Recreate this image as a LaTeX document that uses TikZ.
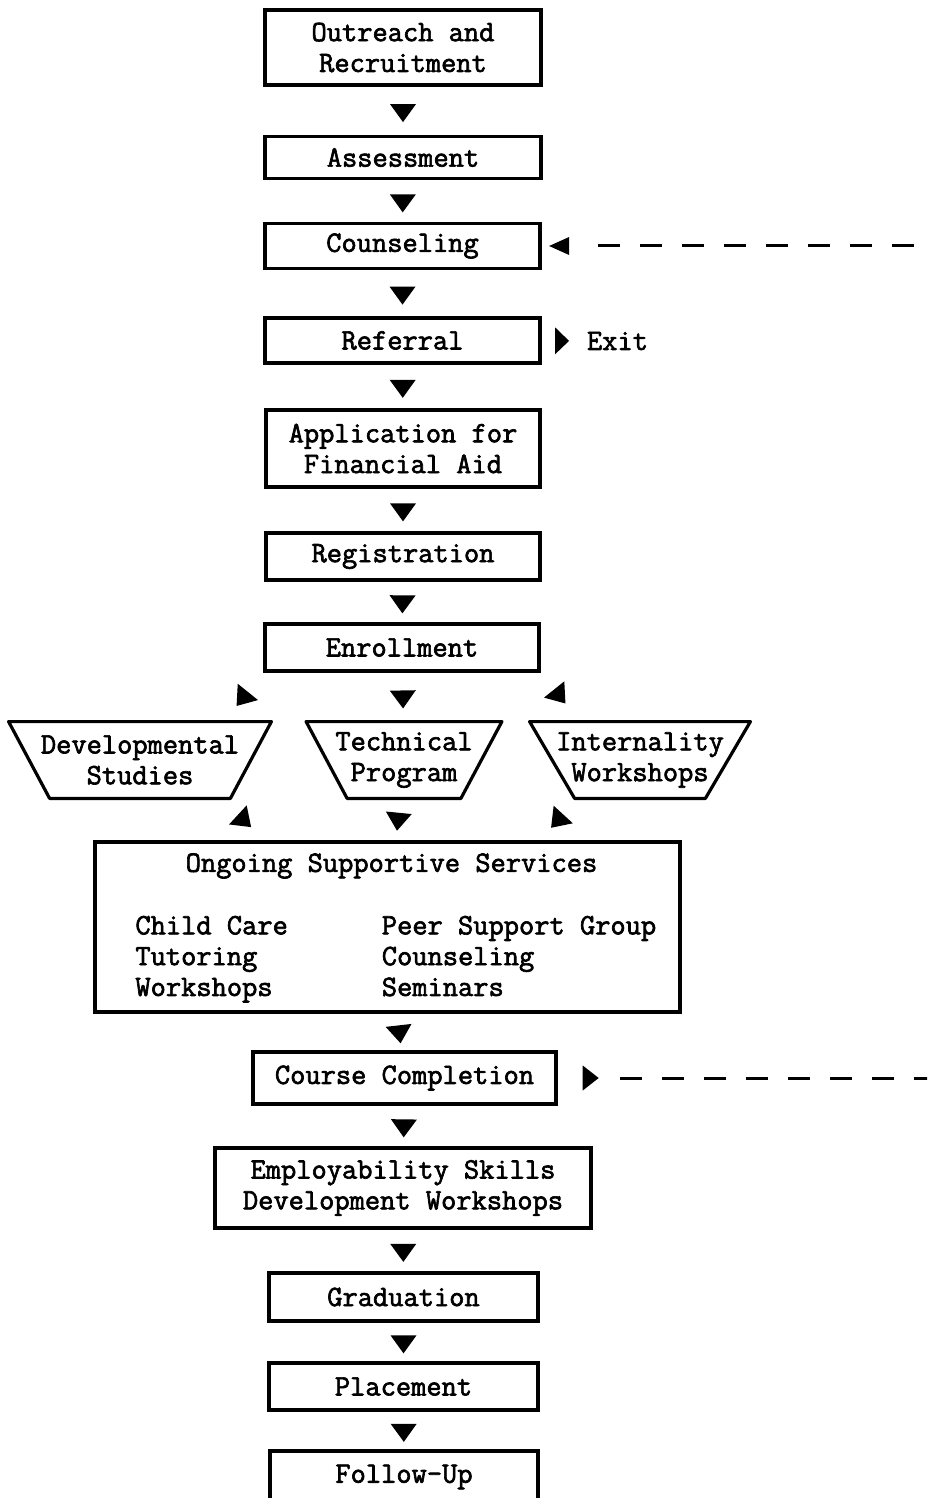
\documentclass[tikz,border=0pt]{standalone}
\usepackage{fontspec}
\usepackage{tikz}
\usetikzlibrary{shapes.geometric}
\newfontfamily\typewr{Latin Modern Mono}[FakeBold=2.2]
\newcommand{\progframe}[2]{%
  \draw[progline] (#1.south west) -- (#1.south east)
    -- ([xshift=#2]#1.north east) -- ([xshift=-#2]#1.north west) -- cycle;}

\tikzset{
  stagebox/.style={draw, line width=1.6pt, inner sep=1pt, align=center},
  progbox/.style={inner sep=0pt, minimum height=38pt},
  progline/.style={line width=1.6pt, line join=round},
  tip/.style={isosceles triangle, isosceles triangle stretches, fill, draw=none,
    inner sep=0pt, minimum width=13pt, minimum height=9pt, sloped, allow upside down},
  loopline/.style={line width=1.5pt, dash pattern=on 11pt off 10pt},
}

\begin{document}
\begin{tikzpicture}[x=0.5pt,y=-0.5pt,font={\typewr\fontsize{14.8pt}{15.4pt}\selectfont}]
  \clip (0,0) rectangle (927,1498);
  % main column
  \node[stagebox, minimum width=138pt, minimum height=37.5pt] (out) at (403,47.5) {Outreach and\\Recruitment};
  \node[stagebox, minimum width=138pt, minimum height=21pt] (ass) at (403,157.5) {Assessment};
  \node[stagebox, minimum width=137.5pt, minimum height=22.5pt] (coun) at (402.5,246) {Counseling};
  \node[stagebox, minimum width=137.5pt, minimum height=22.5pt] (ref) at (402.5,340.5) {Referral};
  \node (exit) at (617.5,341) {Exit};
  \node[stagebox, minimum width=137pt, minimum height=38.5pt] (app) at (403,448.5) {Application for\\Financial Aid};
  \node[stagebox, minimum width=137pt, minimum height=23.5pt] (reg) at (403,556.5) {Registration};
  \node[stagebox, minimum width=137pt, minimum height=23.5pt] (enr) at (402,647.5) {Enrollment};
  % programs
  \node[progbox, minimum width=90pt, label={[align=center]center:Developmental\\Studies}] (dev) at (140,760) {};
  \node[progbox, minimum width=56.5pt, label={[align=center]center:Technical\\Program}] (tec) at (404,760) {};
  \node[progbox, minimum width=65pt, label={[align=center]center:Internality\\Workshops}] (int) at (640,760) {};
  \progframe{dev}{20.5pt}
  \progframe{tec}{20.5pt}
  \progframe{int}{22.5pt}
  % services
  \node[stagebox, minimum width=292.5pt, minimum height=85pt] (sup) at (387.5,927) {};
  \node (suptitle) at (391.5,866) {Ongoing Supportive Services};
  \node[anchor=west, inner sep=0pt] (suplist) at (135,959) {\begin{tabular}{@{}l@{\hspace{47pt}}l@{}}
    Child Care & Peer Support Group\\
    Tutoring & Counseling\\
    Workshops & Seminars
  \end{tabular}};
  \node[stagebox, minimum width=151.5pt, minimum height=26pt] (cmp) at (404.5,1078) {Course Completion};
  \node[stagebox, minimum width=188pt, minimum height=40pt] (emp) at (403,1188) {Employability Skills\\Development Workshops};
  \node[stagebox, minimum width=134.5pt, minimum height=24pt] (gra) at (403.5,1297) {Graduation};
  \node[stagebox, minimum width=134.5pt, minimum height=23.5pt] (pla) at (403.5,1386.5) {Placement};
  \node[stagebox, minimum width=134pt, minimum height=26pt] (fol) at (404,1477) {Follow-Up};

  % arrow heads
  \path (out) -- node[tip] {} (ass);
  \path (ass) -- node[tip] {} (coun);
  \path (coun) -- node[tip] {} (ref);
  \path (ref) -- node[tip] {} (app);
  \path (app) -- node[tip] {} (reg);
  \path (reg) -- node[tip] {} (enr);
  \path (enr) -- node[tip] {} (tec);
  \path (enr.south west) -- node[tip] {} ([xshift=42pt]dev.north);
  \path (enr.south east) -- node[tip, pos=0.45] {} ([xshift=-30pt]int.north);
  \path (tec) -- node[tip] {} (sup);
  \path ([xshift=40pt]dev.south) -- node[tip] {} ([xshift=-61pt]sup.north);
  \path ([xshift=-31pt]int.south) -- node[tip] {} ([xshift=76pt]sup.north);
  \path (sup) -- node[tip] {} (cmp);
  \path (cmp) -- node[tip] {} (emp);
  \path (emp) -- node[tip] {} (gra);
  \path (gra) -- node[tip] {} (pla);
  \path (pla) -- node[tip] {} (fol);
  \path (ref) -- node[tip, minimum width=13.5pt, minimum height=7pt] {} (exit);

  % return loop
  \coordinate (backin) at (585,246);
  \coordinate (backout) at (620,1078);
  \coordinate (edge) at (960,0);
  \draw[loopline] (backout) -- (backout -| edge) -- (backin -| edge) -- (backin);
  \path (cmp) -- node[tip, minimum width=12.5pt, minimum height=8pt] {} (backout);
  \path (backin) -- node[tip, minimum width=9pt, minimum height=10pt] {} (coun);
\end{tikzpicture}
\end{document}
